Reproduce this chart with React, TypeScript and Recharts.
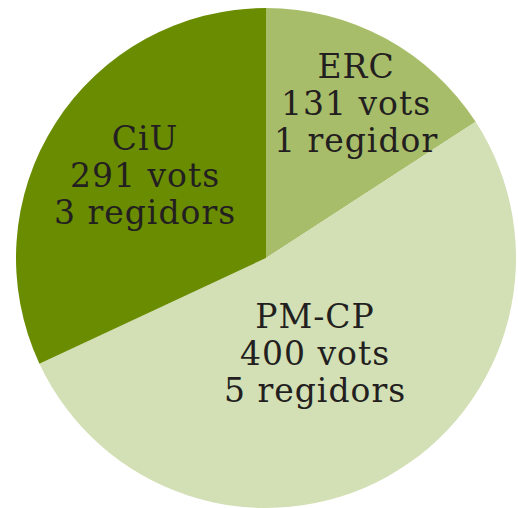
import React from "react";
import { PieChart, Pie, Cell } from "recharts";

// party names, votes and seats as printed on the slices
const parties = ["ERC", "PM-CP", "CiU"];
const votes = [131, 400, 291];
const seats = [1, 5, 3];
// slice sizes as drawn (degrees of the circle)
const sliceDegrees = [57, 188, 115];
const colors = ["#a8bd69", "#d3dfb4", "#6a8c00"];
// where each label sits: share of the radius, and a clockwise turn off the slice middle
const labelRadius = [0.676, 0.471, 0.561];
const labelTurn = [3.7, 4.4, -2.1];

const data = parties.map((name, i) => ({
  name,
  value: sliceDegrees[i],
  votes: votes[i],
  seats: seats[i],
}));

const RADIAN = Math.PI / 180;
const LINE = 37;

const renderLabel = (props: any) => {
  const { cx, cy, midAngle, outerRadius, index } = props;
  const r = outerRadius * labelRadius[index];
  const a = (midAngle - labelTurn[index]) * RADIAN;
  const x = cx + r * Math.cos(-a);
  const y = cy + r * Math.sin(-a);
  const d = data[index];
  const lines = [
    d.name,
    `${d.votes} vots`,
    `${d.seats} ${d.seats === 1 ? "regidor" : "regidors"}`,
  ];
  return (
    <text
      x={x}
      y={y}
      textAnchor="middle"
      fill="#231f20"
      fontFamily="'DejaVu Serif', serif"
      fontSize={33}
      letterSpacing={1}
    >
      {lines.map((line, i) => (
        <tspan key={i} x={x} y={y + (i - 1) * LINE}>
          {line}
        </tspan>
      ))}
    </text>
  );
};

export default function App() {
  return (
    <div style={{ position: "absolute", left: 0, top: 0 }}>
      <PieChart
        width={518}
        height={508}
        margin={{ top: 0, right: 0, bottom: 0, left: 0 }}
      >
        <Pie
          data={data}
          dataKey="value"
          cx={266}
          cy={258}
          outerRadius={250}
          startAngle={90}
          endAngle={-270}
          stroke="none"
          label={renderLabel}
          labelLine={false}
          isAnimationActive={false}
        >
          {data.map((d, i) => (
            <Cell key={d.name} fill={colors[i]} />
          ))}
        </Pie>
      </PieChart>
    </div>
  );
}
